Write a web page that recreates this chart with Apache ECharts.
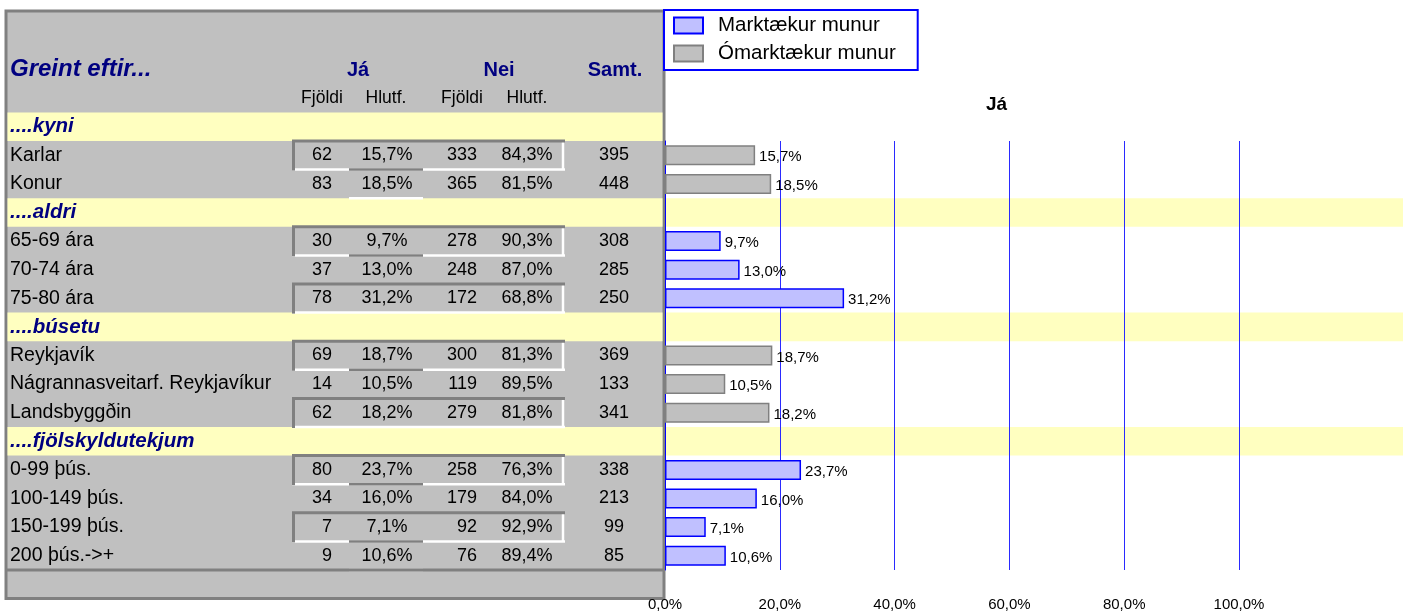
<!DOCTYPE html>
<html>
<head>
<meta charset="utf-8">
<script src="https://cdn.jsdelivr.net/npm/echarts@6/dist/echarts.min.js"></script>
<style>
  html, body { margin: 0; padding: 0; background: #fff; }
  #main { width: 1407px; height: 612px; }
</style>
</head>
<body>
<div id="main"></div>
<script>
// línur töflunnar (hópfyrirsagnir hafa null í tölum)
var rowLabels = ['....kyni', 'Karlar', 'Konur',
  '....aldri', '65-69 ára', '70-74 ára', '75-80 ára',
  '....búsetu', 'Reykjavík', 'Nágrannasveitarf. Reykjavíkur', 'Landsbyggðin',
  '....fjölskyldutekjum', '0-99 þús.', '100-149 þús.', '150-199 þús.', '200 þús.->+'];
var jaFjoldi  = [null, 62, 83, null, 30, 37, 78, null, 69, 14, 62, null, 80, 34, 7, 9];
var jaHlutf   = [null, 15.7, 18.5, null, 9.7, 13.0, 31.2, null, 18.7, 10.5, 18.2, null, 23.7, 16.0, 7.1, 10.6];
var neiFjoldi = [null, 333, 365, null, 278, 248, 172, null, 300, 119, 279, null, 258, 179, 92, 76];
var neiHlutf  = [null, 84.3, 81.5, null, 90.3, 87.0, 68.8, null, 81.3, 89.5, 81.8, null, 76.3, 84.0, 92.9, 89.4];
var samtals   = [null, 395, 448, null, 308, 285, 250, null, 369, 133, 341, null, 338, 213, 99, 85];
// 1 = marktækur munur, 0 = ómarktækur
var marktaekt = [null, 0, 0, null, 1, 1, 1, null, 0, 0, 0, null, 1, 1, 1, 1];
var xTicks = [0, 20, 40, 60, 80, 100];

var FONT = 'Liberation Sans, Arial, sans-serif';
var pct = function (v) { return Number(v).toFixed(1).replace('.', ',') + '%'; };

var chart = echarts.init(document.getElementById('main'));

// y-ás grafsins byrjar á "Karlar" (fyrirsögn kyni er í haus töflunnar)
var chartCats = rowLabels.slice(1);
var markData = [], omarkData = [];
for (var i = 1; i < rowLabels.length; i++) {
  markData.push(jaHlutf[i] != null && marktaekt[i] === 1 ? jaHlutf[i] : '-');
  omarkData.push(jaHlutf[i] != null && marktaekt[i] === 0 ? jaHlutf[i] : '-');
}

var barLabel = {
  show: true, position: 'right', distance: 4, offset: [0, 2],
  formatter: function (p) { return pct(p.value); },
  fontSize: 15, color: '#000', fontFamily: FONT
};

option = {
  animation: false,
  title: {
    text: 'Já', left: 981, top: 90,
    textStyle: { fontSize: 19, fontWeight: 'bold', color: '#000', fontFamily: FONT }
  },
  legend: {
    left: 664, top: 10, orient: 'vertical', icon: 'rect',
    backgroundColor: '#fff', borderColor: '#0000ff', borderWidth: 2, borderRadius: 0,
    padding: [5, 22, 6, 9],
    itemWidth: 29, itemHeight: 16, itemGap: 7,
    textStyle: { fontSize: 20.5, color: '#000', fontFamily: FONT, padding: [0, 0, 0, 10] },
    data: ['Marktækur munur', 'Ómarktækur munur']
  },
  grid: { left: 665, right: 168, top: 141, bottom: 40 },
  xAxis: {
    type: 'value', min: xTicks[0], max: xTicks[xTicks.length - 1], interval: xTicks[1] - xTicks[0],
    axisLine: { show: false }, axisTick: { show: false },
    splitLine: { lineStyle: { color: '#2a2aff', width: 1 } },
    axisLabel: { formatter: pct, fontSize: 15, color: '#000', margin: 27, fontFamily: FONT }
  },
  yAxis: {
    type: 'category', inverse: true, data: chartCats,
    axisLine: { show: true, lineStyle: { color: '#0000ff', width: 1 } },
    axisTick: { show: false }, axisLabel: { show: false }, splitLine: { show: false }
  },
  series: [
    {
      name: 'Marktækur munur', type: 'bar', barWidth: 20, barGap: '-100%',
      data: markData,
      itemStyle: { color: '#c0c0ff', borderColor: '#0000ff', borderWidth: 1.5 },
      label: barLabel
    },
    {
      name: 'Ómarktækur munur', type: 'bar', barWidth: 20, barGap: '-100%',
      data: omarkData,
      itemStyle: { color: '#c0c0c0', borderColor: '#808080', borderWidth: 1.5 },
      label: barLabel
    }
  ]
};
chart.setOption(option);

// tafla til vinstri, staðsett eftir flokkaás grafsins
var c0 = chart.convertToPixel({ yAxisIndex: 0 }, 0);
var rowH = chart.convertToPixel({ yAxisIndex: 0 }, 1) - c0;
function rowCenter(k) { return c0 + (k - 1) * rowH; }

var G = [];
var DARK = '#808080', WHITE = '#ffffff', NAVY = '#000080';
var tableBottom = rowCenter(rowLabels.length) + rowH / 2;

function addLine(x1, y1, x2, y2, color, w, z) {
  G.push({ type: 'line', z: z || 2, silent: true,
    shape: { x1: x1, y1: y1, x2: x2, y2: y2 },
    style: { stroke: color, lineWidth: w } });
}
function addText(t, x, y, align, opts) {
  opts = opts || {};
  G.push({ type: 'text', z: 5, silent: true, x: x, y: y,
    style: { text: t, align: align, verticalAlign: 'middle',
      fill: opts.color || '#000', fontSize: opts.size || 18,
      fontWeight: opts.weight || 'normal', fontStyle: opts.style || 'normal',
      fontFamily: FONT } });
}

// bakgrunnur töflu
G.push({ type: 'rect', z: 0, silent: true,
  shape: { x: 6, y: 11, width: 658, height: tableBottom - 11 },
  style: { fill: '#c0c0c0', stroke: DARK, lineWidth: 3 } });

// haus
addText('Greint eftir...', 10, 69, 'left', { size: 24, weight: 'bold', style: 'italic', color: NAVY });
addText('Já', 358, 70, 'center', { size: 20, weight: 'bold', color: NAVY });
addText('Nei', 499, 70, 'center', { size: 20, weight: 'bold', color: NAVY });
addText('Samt.', 615, 70, 'center', { size: 20, weight: 'bold', color: NAVY });
addText('Fjöldi', 322, 98, 'center', { size: 17.5 });
addText('Hlutf.', 386, 98, 'center', { size: 17.5 });
addText('Fjöldi', 462, 98, 'center', { size: 17.5 });
addText('Hlutf.', 527, 98, 'center', { size: 17.5 });

// raðir
var groupStart = 0;
for (var k = 0; k < rowLabels.length; k++) {
  var cy = rowCenter(k);
  var yTop = cy - rowH / 2, yBot = cy + rowH / 2;
  if (jaFjoldi[k] == null) {
    groupStart = k;
    G.push({ type: 'rect', z: 1, silent: true,
      shape: { x: 7.5, y: yTop, width: 655, height: rowH }, style: { fill: '#ffffc0' } });
    if (k > 0) {
      G.push({ type: 'rect', z: -1, silent: true,
        shape: { x: 666, y: yTop, width: 737, height: rowH }, style: { fill: '#ffffc0' } });
    }
    addText(rowLabels[k], 10, cy, 'left', { size: 20.5, weight: 'bold', style: 'italic', color: NAVY });
    continue;
  }
  var j = k - groupStart - 1;
  var hasNext = k + 1 < rowLabels.length && jaFjoldi[k + 1] != null;
  if (j % 2 === 0) {
    addLine(563, yTop, 563, yBot, WHITE, 2.5);
    addLine(292, yBot, 565, yBot, WHITE, 2.5);
    if (hasNext) addLine(349, yBot, 423, yBot, DARK, 2.5, 3);
    addLine(292, yTop, 565, yTop, DARK, 3, 3);
    addLine(293.5, yTop, 293.5, yBot + 1, DARK, 3, 3);
  } else if (!hasNext) {
    addLine(349, yBot, 423, yBot, WHITE, 2.5);
  }
  addText(rowLabels[k], 10, cy, 'left', { size: 19.5 });
  addText(String(jaFjoldi[k]), 332, cy, 'right');
  addText(pct(jaHlutf[k]), 387, cy, 'center');
  addText(String(neiFjoldi[k]), 477, cy, 'right');
  addText(pct(neiHlutf[k]), 527, cy, 'center');
  addText(String(samtals[k]), 614, cy, 'center');
}
// lína undir síðustu röð
addLine(6, tableBottom - rowH, 664, tableBottom - rowH, DARK, 3, 4);

chart.setOption({ graphic: { elements: G } });
</script>
</body>
</html>
